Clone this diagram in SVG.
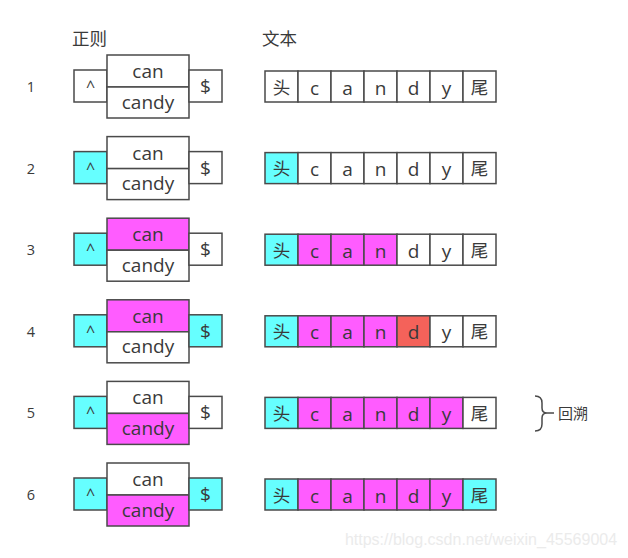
<svg xmlns="http://www.w3.org/2000/svg" width="628" height="558" viewBox="0 0 628 558">
<style>
.b{stroke:#4a4a4a;stroke-width:1.5;fill:#fff}
.c{fill:#66ffff}
.m{fill:#ff5cff}
.r{fill:#f4625a}
text{font-family:"Open Sans","Noto Sans CJK SC",sans-serif;fill:#3a3a3a;text-anchor:middle}
.t{font-size:19px}
.k{font-size:17.5px}
.p{font-size:16px}
.n{font-size:14.5px}
.h{font-size:17.5px;text-anchor:start}
</style>
<rect width="628" height="558" fill="#fff"/>
<text class="h" x="72" y="45">正则</text>
<text class="h" x="262" y="45">文本</text>
<g id="row1">
<text class="n" x="31" y="92">1</text>
<rect class="b" x="74" y="70" width="33" height="32"/><text class="p" x="90.5" y="92">^</text>
<rect class="b" x="107" y="55" width="82" height="32"/><text class="t" x="148" y="78">can</text>
<rect class="b" x="107" y="87" width="82" height="31"/><text class="t" x="148" y="108.5">candy</text>
<rect class="b" x="189" y="70" width="33" height="32"/><text class="t" x="205.5" y="93">$</text>
<rect class="b" x="265" y="71" width="33" height="31"/><text class="k" x="281.5" y="93.5">头</text>
<rect class="b" x="298" y="71" width="33" height="31"/><text class="t" x="314.5" y="94.5">c</text>
<rect class="b" x="331" y="71" width="33" height="31"/><text class="t" x="347.5" y="94.5">a</text>
<rect class="b" x="364" y="71" width="33" height="31"/><text class="t" x="380.5" y="94.5">n</text>
<rect class="b" x="397" y="71" width="33" height="31"/><text class="t" x="413.5" y="94.5">d</text>
<rect class="b" x="430" y="71" width="33" height="31"/><text class="t" x="446.5" y="94.5">y</text>
<rect class="b" x="463" y="71" width="33" height="31"/><text class="k" x="479.5" y="93.5">尾</text>
</g>
<g id="row2" transform="translate(0,81.6)">
<text class="n" x="31" y="92">2</text>
<rect class="b c" x="74" y="70" width="33" height="32"/><text class="p" x="90.5" y="92">^</text>
<rect class="b" x="107" y="55" width="82" height="32"/><text class="t" x="148" y="78">can</text>
<rect class="b" x="107" y="87" width="82" height="31"/><text class="t" x="148" y="108.5">candy</text>
<rect class="b" x="189" y="70" width="33" height="32"/><text class="t" x="205.5" y="93">$</text>
<rect class="b c" x="265" y="71" width="33" height="31"/><text class="k" x="281.5" y="93.5">头</text>
<rect class="b" x="298" y="71" width="33" height="31"/><text class="t" x="314.5" y="94.5">c</text>
<rect class="b" x="331" y="71" width="33" height="31"/><text class="t" x="347.5" y="94.5">a</text>
<rect class="b" x="364" y="71" width="33" height="31"/><text class="t" x="380.5" y="94.5">n</text>
<rect class="b" x="397" y="71" width="33" height="31"/><text class="t" x="413.5" y="94.5">d</text>
<rect class="b" x="430" y="71" width="33" height="31"/><text class="t" x="446.5" y="94.5">y</text>
<rect class="b" x="463" y="71" width="33" height="31"/><text class="k" x="479.5" y="93.5">尾</text>
</g>
<g id="row3" transform="translate(0,163.2)">
<text class="n" x="31" y="92">3</text>
<rect class="b c" x="74" y="70" width="33" height="32"/><text class="p" x="90.5" y="92">^</text>
<rect class="b m" x="107" y="55" width="82" height="32"/><text class="t" x="148" y="78">can</text>
<rect class="b" x="107" y="87" width="82" height="31"/><text class="t" x="148" y="108.5">candy</text>
<rect class="b" x="189" y="70" width="33" height="32"/><text class="t" x="205.5" y="93">$</text>
<rect class="b c" x="265" y="71" width="33" height="31"/><text class="k" x="281.5" y="93.5">头</text>
<rect class="b m" x="298" y="71" width="33" height="31"/><text class="t" x="314.5" y="94.5">c</text>
<rect class="b m" x="331" y="71" width="33" height="31"/><text class="t" x="347.5" y="94.5">a</text>
<rect class="b m" x="364" y="71" width="33" height="31"/><text class="t" x="380.5" y="94.5">n</text>
<rect class="b" x="397" y="71" width="33" height="31"/><text class="t" x="413.5" y="94.5">d</text>
<rect class="b" x="430" y="71" width="33" height="31"/><text class="t" x="446.5" y="94.5">y</text>
<rect class="b" x="463" y="71" width="33" height="31"/><text class="k" x="479.5" y="93.5">尾</text>
</g>
<g id="row4" transform="translate(0,244.8)">
<text class="n" x="31" y="92">4</text>
<rect class="b c" x="74" y="70" width="33" height="32"/><text class="p" x="90.5" y="92">^</text>
<rect class="b m" x="107" y="55" width="82" height="32"/><text class="t" x="148" y="78">can</text>
<rect class="b" x="107" y="87" width="82" height="31"/><text class="t" x="148" y="108.5">candy</text>
<rect class="b c" x="189" y="70" width="33" height="32"/><text class="t" x="205.5" y="93">$</text>
<rect class="b c" x="265" y="71" width="33" height="31"/><text class="k" x="281.5" y="93.5">头</text>
<rect class="b m" x="298" y="71" width="33" height="31"/><text class="t" x="314.5" y="94.5">c</text>
<rect class="b m" x="331" y="71" width="33" height="31"/><text class="t" x="347.5" y="94.5">a</text>
<rect class="b m" x="364" y="71" width="33" height="31"/><text class="t" x="380.5" y="94.5">n</text>
<rect class="b r" x="397" y="71" width="33" height="31"/><text class="t" x="413.5" y="94.5">d</text>
<rect class="b" x="430" y="71" width="33" height="31"/><text class="t" x="446.5" y="94.5">y</text>
<rect class="b" x="463" y="71" width="33" height="31"/><text class="k" x="479.5" y="93.5">尾</text>
</g>
<g id="row5" transform="translate(0,326.4)">
<text class="n" x="31" y="92">5</text>
<rect class="b c" x="74" y="70" width="33" height="32"/><text class="p" x="90.5" y="92">^</text>
<rect class="b" x="107" y="55" width="82" height="32"/><text class="t" x="148" y="78">can</text>
<rect class="b m" x="107" y="87" width="82" height="31"/><text class="t" x="148" y="108.5">candy</text>
<rect class="b" x="189" y="70" width="33" height="32"/><text class="t" x="205.5" y="93">$</text>
<rect class="b c" x="265" y="71" width="33" height="31"/><text class="k" x="281.5" y="93.5">头</text>
<rect class="b m" x="298" y="71" width="33" height="31"/><text class="t" x="314.5" y="94.5">c</text>
<rect class="b m" x="331" y="71" width="33" height="31"/><text class="t" x="347.5" y="94.5">a</text>
<rect class="b m" x="364" y="71" width="33" height="31"/><text class="t" x="380.5" y="94.5">n</text>
<rect class="b m" x="397" y="71" width="33" height="31"/><text class="t" x="413.5" y="94.5">d</text>
<rect class="b m" x="430" y="71" width="33" height="31"/><text class="t" x="446.5" y="94.5">y</text>
<rect class="b" x="463" y="71" width="33" height="31"/><text class="k" x="479.5" y="93.5">尾</text>
</g>
<g id="row6" transform="translate(0,408)">
<text class="n" x="31" y="92">6</text>
<rect class="b c" x="74" y="70" width="33" height="32"/><text class="p" x="90.5" y="92">^</text>
<rect class="b" x="107" y="55" width="82" height="32"/><text class="t" x="148" y="78">can</text>
<rect class="b m" x="107" y="87" width="82" height="31"/><text class="t" x="148" y="108.5">candy</text>
<rect class="b c" x="189" y="70" width="33" height="32"/><text class="t" x="205.5" y="93">$</text>
<rect class="b c" x="265" y="71" width="33" height="31"/><text class="k" x="281.5" y="93.5">头</text>
<rect class="b m" x="298" y="71" width="33" height="31"/><text class="t" x="314.5" y="94.5">c</text>
<rect class="b m" x="331" y="71" width="33" height="31"/><text class="t" x="347.5" y="94.5">a</text>
<rect class="b m" x="364" y="71" width="33" height="31"/><text class="t" x="380.5" y="94.5">n</text>
<rect class="b m" x="397" y="71" width="33" height="31"/><text class="t" x="413.5" y="94.5">d</text>
<rect class="b m" x="430" y="71" width="33" height="31"/><text class="t" x="446.5" y="94.5">y</text>
<rect class="b c" x="463" y="71" width="33" height="31"/><text class="k" x="479.5" y="93.5">尾</text>
</g>
<g id="brace">
<path d="M535,396 Q542,396 542,403 L542,408 Q542,413 547,413 L554,413 M547,413 Q542,413 542,418 L542,424 Q542,431 535,431" fill="none" stroke="#4a4a4a" stroke-width="1.5"/>
<text class="h" x="558" y="419" style="font-size:15px">回溯</text>
</g>
<text x="481" y="545" style="font-family:'Liberation Sans',Arial,sans-serif;font-size:16px;fill:#ebebeb">https://blog.csdn.net/weixin_45569004</text>
</svg>
